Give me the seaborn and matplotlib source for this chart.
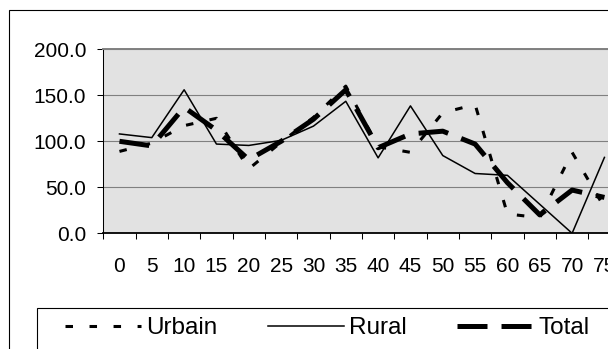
import matplotlib
matplotlib.use('Agg')
import matplotlib.pyplot as plt
import seaborn as sns
import numpy as np
from matplotlib.patches import Rectangle
from matplotlib.ticker import FuncFormatter

# ---- data ----
categories = ['0', '5', '10', '15', '20', '25', '30', '35', '40', '45',
              '50', '55', '60', '65', '70', '75']
urbain = [89, 98, 117, 125, 70, 99, 126, 160, 94, 88, 131, 140, 21, 17, 88, 28]
rural = [108, 104, 156, 97, 95.5, 101, 116.5, 143.5, 82, 138.5, 84.5, 65, 63, 31.5, 0, 82.5]
total = [100, 95, 137, 112, 80, 100, 124, 156, 93, 108, 111, 97, 55, 20, 47, 39]
series_names = ['Urbain', 'Rural', 'Total']
y_ticks = [0, 50, 100, 150, 200]

plt.rcParams['font.family'] = ['Liberation Sans', 'DejaVu Sans']
plt.rcParams['lines.scale_dashes'] = False

W, H = 608, 349
fig = plt.figure(figsize=(W / 100, H / 100), dpi=100)
fig.patch.set_facecolor('white')

# plot area in pixels (extends past the right edge of the picture, as in the reference)
x0, x1 = 103.3, 620.6
y0, y1 = 49.3, 233.3
ax = fig.add_axes([x0 / W, 1 - y1 / H, (x1 - x0) / W, (y1 - y0) / H])
ax.set_facecolor('#e2e2e2')

pos = np.arange(len(categories))

sns.lineplot(x=pos, y=urbain, ax=ax, color='black', lw=2.2, errorbar=None,
             linestyle=(0, (5.4, 11.9)), dash_capstyle='butt', sort=False)
h_urb = ax.lines[-1]
sns.lineplot(x=pos, y=rural, ax=ax, color='black', lw=1.1, errorbar=None, sort=False)
h_rur = ax.lines[-1]
sns.lineplot(x=pos, y=total, ax=ax, color='black', lw=3.6, errorbar=None,
             linestyle=(0, (21.6, 10.1)), dash_capstyle='butt', sort=False)
h_tot = ax.lines[-1]

ax.set_xlim(-0.5, len(categories) - 0.5)
ax.set_ylim(0, 200)
ax.set_xlabel('')
ax.set_ylabel('')

ax.set_xticks(pos)
ax.set_xticklabels(categories)
ax.set_xticks(np.arange(-0.5, len(categories), 1), minor=True)
ax.tick_params(axis='x', which='major', length=0, pad=17.0, labelsize=15, colors='black')
ax.tick_params(axis='x', which='minor', length=4.3, width=0.75, direction='out', color='black')

ax.set_yticks(y_ticks)
ax.yaxis.set_major_formatter(FuncFormatter(lambda v, p: f'{v:.1f}'))
ax.tick_params(axis='y', which='major', length=4.3, width=0.75, direction='out', pad=8,
               labelsize=15, colors='black')

ax.grid(axis='y', color='#808080', lw=0.8)
ax.grid(axis='x', visible=False)
ax.set_axisbelow(True)

ax.spines['left'].set_color('black')
ax.spines['left'].set_linewidth(0.75)
ax.spines['bottom'].set_color('black')
ax.spines['bottom'].set_linewidth(1.3)
ax.spines['top'].set_color('#808080')
ax.spines['top'].set_linewidth(1.4)
ax.spines['right'].set_visible(False)

# outer chart frame (cut by the picture edge)
fig.add_artist(Rectangle((9.3 / W, -0.2), (800 - 9.3) / W, (1 - 10 / H) + 0.2,
                         transform=fig.transFigure, fill=False, edgecolor='black',
                         lw=0.8, clip_on=False))
# legend frame (cut by the picture edge)
fig.add_artist(Rectangle((37 / W, -0.2), (800 - 37) / W, (1 - 308 / H) + 0.2,
                         transform=fig.transFigure, fill=False, edgecolor='black',
                         lw=0.8, clip_on=False))

fs = 17.5
fs_px = fs * 100 / 72
ax.legend(handles=[h_urb, h_rur, h_tot], labels=series_names,
          loc='center left', bbox_to_anchor=(65 / W, 1 - 328 / H),
          bbox_transform=fig.transFigure, ncol=3, frameon=False, fontsize=fs,
          handlelength=76 / fs_px, handletextpad=5.5 / fs_px,
          columnspacing=50 / fs_px, borderpad=0, borderaxespad=0)

fig.savefig('out.png', dpi=100)
